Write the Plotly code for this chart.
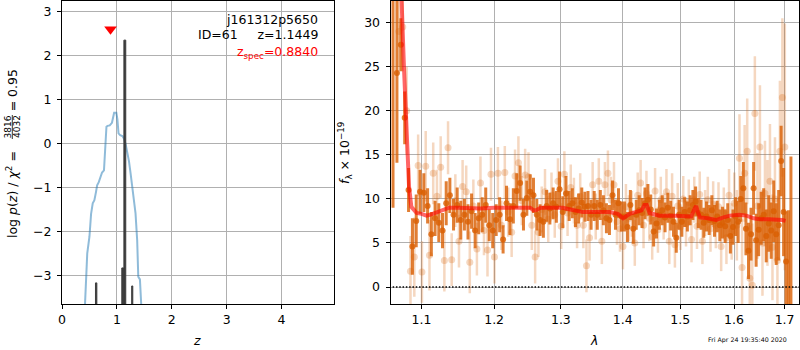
import plotly.graph_objects as go

FONT = "DejaVu Sans"

# ---------------- redshift fit (left panel) ----------------
z_coarse = [0.40, 0.43, 0.46, 0.50, 0.53, 0.56, 0.59, 0.62, 0.64, 0.67,
            0.70, 0.73, 0.765, 0.79, 0.81, 0.83, 0.87, 0.91, 0.93, 0.95,
            0.99, 1.01, 1.03, 1.06, 1.10, 1.13, 1.16, 1.19, 1.22, 1.25,
            1.28, 1.31, 1.34, 1.37, 1.39, 1.42, 1.44, 1.47]
logp_coarse = [-4.2, -3.3, -2.5, -2.12, -1.60, -1.36, -1.29, -1.10, -0.95, -0.88,
               -0.78, -0.66, -0.61, -0.10, 0.38, 0.40, 0.41, 0.47, 0.62, 0.70,
               0.70, 0.55, 0.23, 0.19, 0.17, 0.11, -0.02, -0.18, -0.40, -0.68,
               -0.98, -1.29, -1.59, -2.20, -3.03, -3.09, -3.6, -4.3]

# fine-grid peaks of log p(z): lower z, upper z, peak value
peak_zlo = [0.610, 1.090, 1.128, 1.270]
peak_zhi = [0.635, 1.125, 1.162, 1.290]
peak_logp = [-3.17, -2.83, 2.35, -3.24]
logp_floor = -6.0

obj_name = "j161312p5650"
obj_id = 61
z_best = 1.1449
z_spec = 0.8840
chi2_num, chi2_den, chi2_red = 3816, 4032, 0.95

# ---------------- 1D spectrum (right panel), microns / 1e-19 ----------------
wave_bin = [1.063, 1.068, 1.073, 1.078, 1.083, 1.088, 1.093, 1.098, 1.103, 1.108,
            1.113, 1.118, 1.123, 1.128, 1.133, 1.138, 1.143, 1.148, 1.153, 1.158,
            1.163, 1.168, 1.173, 1.178, 1.183, 1.188, 1.193, 1.198, 1.203, 1.208,
            1.213, 1.218, 1.223, 1.228, 1.233, 1.238, 1.243, 1.248, 1.253, 1.258,
            1.263, 1.268, 1.273, 1.278, 1.283, 1.288, 1.293, 1.298, 1.303, 1.308,
            1.313, 1.318, 1.323, 1.328, 1.333, 1.338, 1.343, 1.348, 1.353, 1.358,
            1.363, 1.368, 1.373, 1.378, 1.383, 1.388, 1.393, 1.398, 1.403, 1.408,
            1.413, 1.418, 1.423, 1.428, 1.433, 1.438, 1.443, 1.448, 1.453, 1.458,
            1.463, 1.468, 1.473, 1.478, 1.483, 1.488, 1.493, 1.498, 1.503, 1.508,
            1.513, 1.518, 1.523, 1.528, 1.533, 1.538, 1.543, 1.548, 1.553, 1.558,
            1.563, 1.568, 1.573, 1.578, 1.583, 1.588, 1.593, 1.598, 1.603, 1.608,
            1.613, 1.618, 1.623, 1.628, 1.633, 1.638, 1.643, 1.648, 1.653, 1.658,
            1.663, 1.668, 1.673, 1.678, 1.683, 1.688, 1.693, 1.698, 1.703, 1.708,
            1.713]
flux_bin = [33.0, 24.3, 27.5, 19.2, 11.0, 4.6, 7.5, 10.8, 10.7, 9.2,
            6.0, 7.8, 7.3, 6.4, 9.5, 10.4, 8.2, 9.3, 7.6, 8.2,
            7.4, 8.6, 6.4, 7.8, 8.2, 9.3, 7.0, 6.4, 7.6, 8.2,
            5.4, 9.5, 7.7, 9.2, 10.9, 11.8, 8.2, 10.1, 10.8, 10.4,
            8.2, 7.6, 7.4, 9.2, 8.9, 9.5, 9.1, 11.1, 8.5, 10.6,
            9.2, 9.5, 8.5, 8.9, 9.6, 9.1, 9.2, 8.2, 9.2, 8.2,
            9.3, 8.7, 7.8, 7.6, 10.4, 8.2, 9.5, 8.0, 8.0, 6.8,
            9.3, 6.6, 8.2, 8.7, 8.4, 9.5, 9.9, 8.8, 6.3, 7.2,
            8.2, 8.7, 7.9, 9.0, 8.1, 7.4, 5.6, 8.2, 7.4, 8.5,
            8.0, 8.7, 9.3, 9.7, 8.4, 8.2, 7.3, 8.0, 7.6, 8.7,
            7.5, 8.0, 7.0, 7.3, 6.9, 7.6, 5.8, 6.8, 8.0, 7.4,
            10.0, 11.2, 6.6, 4.1, 6.0, 11.2, 5.3, 6.5, 7.8, 8.2,
            5.8, 7.2, 6.4, 8.6, 6.0, 7.0, 14.3, 8.5, 2.9, -4.0,
            -3.0]
err_bin = [24.0, 10.2, 3.0, 3.0, 2.5, 3.2, 3.0, 2.5, 2.2, 2.0,
           2.5, 2.0, 2.2, 2.0, 2.5, 2.0, 1.8, 2.0, 2.2, 1.8,
           2.0, 2.0, 2.0, 1.8, 2.0, 2.0, 1.8, 2.0, 1.8, 2.0,
           1.6, 2.0, 1.8, 2.0, 2.0, 2.0, 1.8, 2.0, 2.0, 2.0,
           1.8, 1.8, 1.8, 1.8, 1.8, 1.8, 1.8, 2.0, 1.8, 2.0,
           1.7, 1.7, 1.7, 1.7, 1.7, 1.7, 1.7, 1.7, 1.7, 1.7,
           1.7, 1.7, 1.7, 1.7, 1.7, 1.7, 1.7, 1.7, 1.7, 1.7,
           1.7, 1.7, 1.7, 1.7, 1.7, 1.8, 1.8, 1.7, 1.7, 1.7,
           1.7, 1.7, 1.7, 1.7, 1.7, 1.7, 1.7, 1.7, 1.7, 1.7,
           1.7, 1.7, 1.7, 1.7, 1.7, 1.7, 1.7, 1.7, 1.7, 1.7,
           1.8, 1.8, 1.8, 1.8, 1.9, 1.9, 2.0, 2.0, 2.2, 2.4,
           2.6, 3.0, 3.0, 3.2, 3.0, 3.0, 3.0, 3.0, 3.0, 3.0,
           3.0, 3.2, 3.2, 3.5, 3.5, 4.0, 4.0, 5.0, 5.7, 12.7,
           17.8]

wave_pix = [1.0705, 1.0755, 1.0805, 1.0855, 1.0905, 1.0955, 1.1005, 1.1055, 1.1105, 1.1155,
            1.1205, 1.1255, 1.1305, 1.1355, 1.1405, 1.1455, 1.1505, 1.1555, 1.1605, 1.1655,
            1.1705, 1.1755, 1.1805, 1.1855, 1.1905, 1.1955, 1.2005, 1.2055, 1.2105, 1.2155,
            1.2205, 1.2255, 1.2305, 1.2355, 1.2405, 1.2455, 1.2505, 1.2555, 1.2605, 1.2655,
            1.2705, 1.2755, 1.2805, 1.2855, 1.2905, 1.2955, 1.3005, 1.3055, 1.3105, 1.3155,
            1.3205, 1.3255, 1.3305, 1.3355, 1.3405, 1.3455, 1.3505, 1.3555, 1.3605, 1.3655,
            1.3705, 1.3755, 1.3805, 1.3855, 1.3905, 1.3955, 1.4005, 1.4055, 1.4105, 1.4155,
            1.4205, 1.4255, 1.4305, 1.4355, 1.4405, 1.4455, 1.4505, 1.4555, 1.4605, 1.4655,
            1.4705, 1.4755, 1.4805, 1.4855, 1.4905, 1.4955, 1.5005, 1.5055, 1.5105, 1.5155,
            1.5205, 1.5255, 1.5305, 1.5355, 1.5405, 1.5455, 1.5505, 1.5555, 1.5605, 1.5655,
            1.5705, 1.5755, 1.5805, 1.5855, 1.5905, 1.5955, 1.6005, 1.6055, 1.6105, 1.6155,
            1.6205, 1.6255, 1.6305, 1.6355, 1.6405, 1.6455, 1.6505, 1.6555, 1.6605, 1.6655,
            1.6705, 1.6755, 1.6805, 1.6855, 1.6905, 1.6955, 1.7005]
flux_pix = [29.0, 29.5, 20.0, 1.8, 3.4, 13.8, 1.7, 13.7, 3.6, 12.9,
            10.3, 13.6, 3.0, 15.8, 3.1, 9.8, 5.2, 11.4, 10.8, 2.8,
            9.2, 4.3, 11.8, 6.4, 4.2, 12.8, 3.4, 12.9, 7.0, 13.0,
            8.5, 6.2, 12.6, 14.1, 9.8, 12.7, 12.5, 7.0, 3.4, 6.2,
            8.8, 10.8, 7.7, 10.4, 8.2, 12.0, 6.9, 12.8, 8.4, 11.3,
            9.8, 7.0, 10.3, 7.0, 2.4, 5.6, 11.6, 8.0, 12.0, 5.2,
            11.6, 12.9, 9.9, 11.6, 7.4, 6.6, 4.6, 9.1, 7.8, 8.3,
            5.0, 10.4, 11.8, 7.0, 10.6, 7.8, 5.7, 10.9, 6.5, 9.9,
            8.0, 10.8, 5.2, 10.3, 4.8, 9.2, 6.8, 10.0, 7.2, 9.6,
            5.4, 9.9, 6.9, 10.5, 5.2, 8.4, 9.9, 6.6, 9.4, 7.0,
            9.1, 4.6, 8.5, 5.6, 10.4, 6.3, 9.5, 7.0, 14.6, 2.2,
            12.9, 15.4, 1.0, 0.2, 19.7, 9.2, 15.9, 5.0, 10.6, 8.4,
            12.0, 4.5, 10.0, 3.0, 15.4, 21.5, 15.9]
err_pix = [4.0, 5.0, 5.0, 4.0, 4.5, 3.5, 3.5, 4.0, 4.0, 3.5,
           3.0, 3.5, 3.5, 3.0, 3.0, 3.0, 3.0, 3.0, 3.0, 3.5,
           3.0, 3.0, 3.0, 2.8, 3.0, 3.0, 3.0, 3.0, 2.8, 3.0,
           2.8, 2.8, 3.0, 3.0, 2.8, 3.0, 2.8, 2.8, 3.0, 2.8,
           2.6, 2.6, 2.6, 2.6, 2.6, 2.6, 2.6, 2.6, 2.6, 2.6,
           2.6, 2.6, 2.6, 2.6, 3.0, 2.6, 2.6, 2.6, 2.6, 2.6,
           2.6, 2.6, 2.6, 2.6, 2.6, 2.6, 2.6, 2.6, 2.6, 2.6,
           2.6, 2.6, 2.6, 2.6, 2.6, 2.6, 2.6, 2.6, 2.6, 2.6,
           2.6, 2.6, 2.6, 2.6, 2.6, 2.6, 2.6, 2.6, 2.6, 2.6,
           2.6, 2.6, 2.6, 2.6, 2.6, 2.6, 2.6, 2.6, 2.6, 2.6,
           2.8, 2.8, 2.8, 3.0, 3.0, 3.2, 3.5, 4.0, 5.0, 5.5,
           5.5, 6.0, 6.0, 7.0, 6.5, 6.0, 7.0, 6.0, 6.0, 6.0,
           6.5, 6.0, 7.0, 7.0, 8.0, 9.0, 14.0]

wave_model = [1.0715, 1.074, 1.077, 1.080, 1.0825, 1.0836, 1.0866, 1.0935, 1.100, 1.1066,
              1.113, 1.120, 1.128, 1.137, 1.150, 1.165, 1.180, 1.200, 1.220, 1.235,
              1.247, 1.253, 1.258, 1.263, 1.2685, 1.285, 1.303, 1.315, 1.335, 1.355,
              1.378, 1.392, 1.4008, 1.412, 1.425, 1.432, 1.437, 1.441, 1.446, 1.455,
              1.463, 1.490, 1.511, 1.520, 1.5255, 1.529, 1.532, 1.536, 1.550, 1.566,
              1.580, 1.592, 1.610, 1.624, 1.638, 1.650, 1.668, 1.684, 1.695, 1.702]
flux_model = [45.0, 32.5, 25.0, 19.4, 14.5, 11.4, 9.1, 8.4, 8.3, 8.1,
              8.25, 8.5, 8.8, 9.0, 9.0, 8.9, 8.9, 9.0, 9.0, 9.1,
              9.1, 9.0, 8.7, 8.75, 9.0, 9.0, 9.0, 8.8, 8.5, 8.5,
              8.5, 8.3, 7.8, 8.3, 8.5, 8.7, 9.3, 9.3, 8.4, 8.2,
              8.1, 8.1, 8.1, 8.0, 8.8, 9.2, 8.5, 7.9, 7.8, 7.6,
              7.9, 8.1, 8.2, 8.1, 7.8, 7.7, 7.7, 7.7, 7.6, 7.5]

timestamp = "Fri Apr 24 19:35:40 2020"

assert len(wave_bin) == len(flux_bin) == len(err_bin)
assert len(wave_pix) == len(flux_pix) == len(err_pix)
assert len(wave_model) == len(flux_model)
assert len(z_coarse) == len(logp_coarse)

ORANGE_DARK = "rgba(217,95,2,0.8)"
ORANGE_LIGHT = "rgba(217,95,2,0.25)"

fig = go.Figure()

# coarse-grid p(z)
fig.add_trace(go.Scatter(x=z_coarse, y=logp_coarse, mode="lines",
                         line=dict(color="rgba(31,119,180,0.5)", width=2),
                         xaxis="x", yaxis="y", hoverinfo="skip"))

# fine-grid p(z) peaks as filled spikes
px_, py_ = [], []
for lo, hi, top in zip(peak_zlo, peak_zhi, peak_logp):
    px_ += [lo, lo, hi, hi, None]
    py_ += [logp_floor, top, top, logp_floor, None]
fig.add_trace(go.Scatter(x=px_, y=py_, mode="lines", fill="toself",
                         fillcolor="#3c3c3c", line=dict(color="#3c3c3c", width=1),
                         xaxis="x", yaxis="y", hoverinfo="skip"))

# spectroscopic redshift marker
fig.add_trace(go.Scatter(x=[z_spec], y=[2.6], mode="markers",
                         marker=dict(symbol="triangle-down", size=11, color="red"),
                         xaxis="x", yaxis="y", hoverinfo="skip"))

# unbinned pixels
fig.add_trace(go.Scatter(x=wave_pix, y=flux_pix, mode="markers",
                         marker=dict(size=7, color=ORANGE_LIGHT, line=dict(width=0)),
                         error_y=dict(type="data", array=err_pix, color=ORANGE_LIGHT,
                                      thickness=2.5, width=0),
                         xaxis="x2", yaxis="y2", hoverinfo="skip"))

# binned spectrum
fig.add_trace(go.Scatter(x=wave_bin, y=flux_bin, mode="markers",
                         marker=dict(size=6, color=ORANGE_DARK, line=dict(width=0)),
                         error_y=dict(type="data", array=err_bin, color=ORANGE_DARK,
                                      thickness=3, width=0),
                         xaxis="x2", yaxis="y2", hoverinfo="skip"))

# zero level
fig.add_trace(go.Scatter(x=[1.05, 1.75], y=[0, 0], mode="lines",
                         line=dict(color="black", width=1.5, dash="1.5px,1.8px"),
                         xaxis="x2", yaxis="y2", hoverinfo="skip"))

# best-fit model
fig.add_trace(go.Scatter(x=wave_model, y=flux_model, mode="lines",
                         line=dict(color="rgba(255,0,0,0.6)", width=4),
                         xaxis="x2", yaxis="y2", hoverinfo="skip"))

axis_style = dict(showline=True, mirror=True, linecolor="black", linewidth=1,
                  ticks="outside", ticklen=4, tickwidth=1, tickcolor="black",
                  showgrid=True, gridcolor="#b0b0b0", gridwidth=1, zeroline=False,
                  tickfont=dict(family=FONT, size=12.5, color="black"))

fig.update_layout(
    width=800, height=350,
    margin=dict(l=62, r=1, t=1, b=46),
    plot_bgcolor="white", paper_bgcolor="white",
    showlegend=False,
    font=dict(family=FONT, size=12.5, color="black"),
    xaxis=dict(domain=[0, 0.3693], range=[0, 4.96], tickvals=[0, 1, 2, 3, 4],
               anchor="y", **axis_style),
    yaxis=dict(range=[-3.65, 3.24], tickvals=[-3, -2, -1, 0, 1, 2, 3],
               anchor="x", ticklabelstandoff=3, **axis_style),
    xaxis2=dict(domain=[0.4458, 1], type="log", range=[0.02525, 0.23796],
                tickvals=[1.1, 1.2, 1.3, 1.4, 1.5, 1.6, 1.7],
                ticktext=["1.1", "1.2", "1.3", "1.4", "1.5", "1.6", "1.7"],
                anchor="y2", **axis_style),
    yaxis2=dict(range=[-1.93, 32.46], tickvals=[0, 5, 10, 15, 20, 25, 30],
                anchor="x2", ticklabelstandoff=3, **axis_style),
)

PLOT_L, PLOT_W, PLOT_B, PLOT_H = 62, 737, 304, 303


def ann(text, px, py, size=12.5, color="black", xanchor="center",
        yanchor="middle", angle=0):
    return dict(text=text, x=(px - PLOT_L) / PLOT_W, y=(PLOT_B - py) / PLOT_H,
                xref="paper", yref="paper", showarrow=False,
                font=dict(family=FONT, size=size, color=color),
                xanchor=xanchor, yanchor=yanchor, textangle=angle)


# left axis title: one rotated line, with room left for the stacked fraction
frac_gap = "&nbsp;" * 10
ylabel_left = (f"log <i>p</i>(<i>z</i>) / <i>χ</i><sup>2</sup> ={frac_gap}"
               f"= {chi2_red:.2f}")

annotations = [
    ann(obj_name, 320, 20, xanchor="right"),
    ann(f"ID={obj_id}&nbsp;&nbsp;&nbsp;&nbsp;&nbsp;z={z_best:.4f}", 320, 34.5, xanchor="right"),
    ann(f"z<sub>spec</sub>={z_spec:.4f}", 320, 53, color="red", xanchor="right"),
    ann("<i>z</i>", 197, 340),
    ann("<i>λ</i>", 594, 340),
    ann("<i>f</i><sub>λ</sub> × 10<sup>−19</sup>", 345, 153, angle=-90),
    ann(ylabel_left, 12, 154, angle=-90),
    ann(str(chi2_num), 7.5, 127, size=9, angle=-90),
    ann(str(chi2_den), 17, 127, size=9, angle=-90),
    ann(timestamp, 789, 340, size=6.3, xanchor="right"),
]
fig.update_layout(annotations=annotations)

# fraction bar
fig.add_shape(type="line", xref="paper", yref="paper",
              x0=(12.3 - PLOT_L) / PLOT_W, x1=(12.3 - PLOT_L) / PLOT_W,
              y0=(PLOT_B - 115) / PLOT_H, y1=(PLOT_B - 139) / PLOT_H,
              line=dict(color="black", width=0.8))

fig.write_html("out.html")
